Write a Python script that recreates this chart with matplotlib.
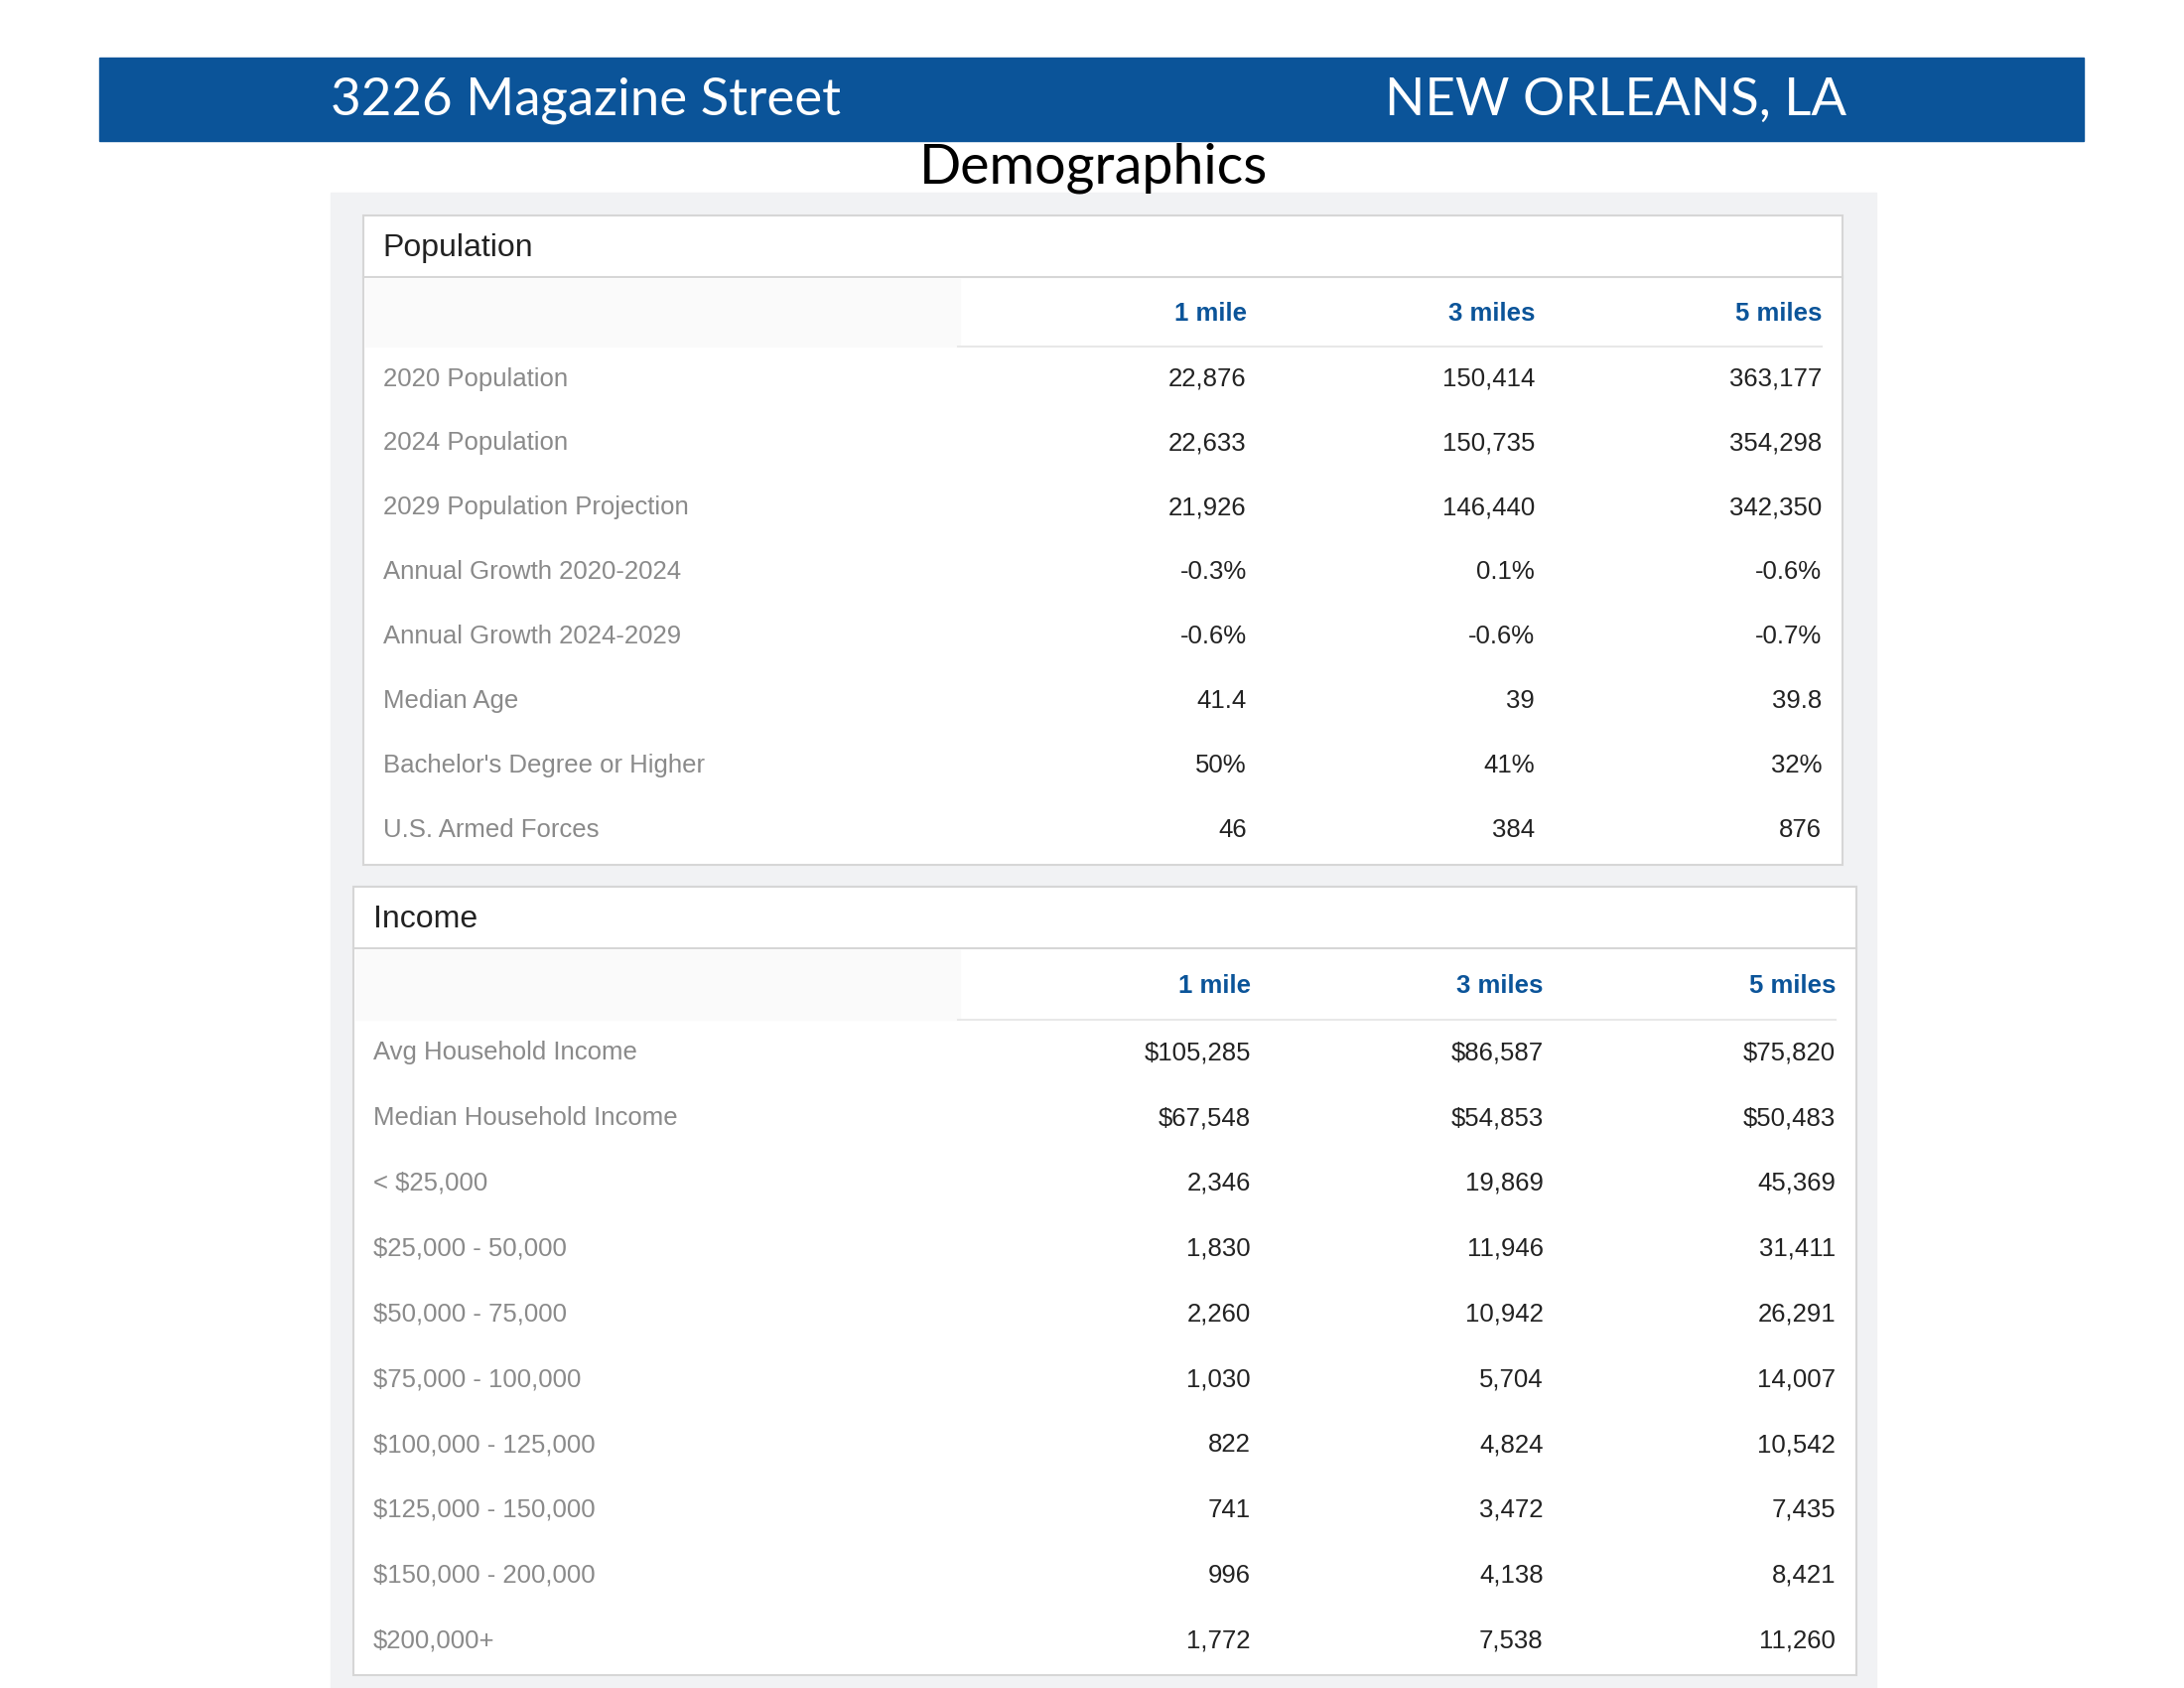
import matplotlib
import matplotlib.pyplot as plt
from matplotlib.patches import Rectangle

matplotlib.use('Agg')

columns = ['1 mile', '3 miles', '5 miles']

pop_labels = ['2020 Population', '2024 Population', '2029 Population Projection',
              'Annual Growth 2020-2024', 'Annual Growth 2024-2029', 'Median Age',
              "Bachelor's Degree or Higher", 'U.S. Armed Forces']
pop_1mi = ['22,876', '22,633', '21,926', '-0.3%', '-0.6%', '41.4', '50%', '46']
pop_3mi = ['150,414', '150,735', '146,440', '0.1%', '-0.6%', '39', '41%', '384']
pop_5mi = ['363,177', '354,298', '342,350', '-0.6%', '-0.7%', '39.8', '32%', '876']

inc_labels = ['Avg Household Income', 'Median Household Income', '< $25,000',
              '$25,000 - 50,000', '$50,000 - 75,000', '$75,000 - 100,000',
              '$100,000 - 125,000', '$125,000 - 150,000', '$150,000 - 200,000', '$200,000+']
inc_1mi = ['$105,285', '$67,548', '2,346', '1,830', '2,260', '1,030', '822', '741', '996', '1,772']
inc_3mi = ['$86,587', '$54,853', '19,869', '11,946', '10,942', '5,704', '4,824', '3,472', '4,138', '7,538']
inc_5mi = ['$75,820', '$50,483', '45,369', '31,411', '26,291', '14,007', '10,542', '7,435', '8,421', '11,260']

BLUE = '#0b5499'
TF = ['Liberation Sans', 'DejaVu Sans']

fig = plt.figure(figsize=(22, 17), dpi=100)
ax = fig.add_axes([0, 0, 1, 1])
ax.set_xlim(0, 1568)
ax.set_ylim(1212, 0)
ax.axis('off')

# banner
ax.add_patch(Rectangle((71, 41), 1425, 60, color=BLUE))
ax.text(237, 72, '3226 Magazine Street', color='white', fontsize=38, va='center', family='Lato')
ax.text(1326, 72, 'NEW ORLEANS, LA', color='white', fontsize=38, va='center', ha='right', family='Lato')
ax.text(785, 121, 'Demographics', color='black', fontsize=40, va='center', ha='center', family='Lato')

ax.add_patch(Rectangle((237, 138), 1110, 1074, color='#f1f2f4'))


def draw_table(x0, x1, y0, y1, title, labels, cols, col_x, row_y0, row_step, head_y):
    ax.add_patch(Rectangle((x0, y0), x1 - x0, y1 - y0, facecolor='white', edgecolor='#d6d6d6', lw=1.5))
    ax.plot([x0, x1], [y0 + 44, y0 + 44], color='#d6d6d6', lw=1.5)
    ax.add_patch(Rectangle((x0 + 1, y0 + 45), 688 - x0, head_y + 24 - (y0 + 45), color='#fafafa'))
    ax.text(x0 + 14, y0 + 23, title, fontsize=23, va='center', color='#222222', family=TF)
    for name, cx in zip(columns, col_x):
        ax.text(cx, head_y, name, fontsize=18.5, va='center', ha='right', color=BLUE,
                fontweight='bold', family=TF)
    ax.plot([688, col_x[-1]], [head_y + 24, head_y + 24], color='#e8e8e8', lw=1.5)
    for i, lab in enumerate(labels):
        y = row_y0 + i * row_step
        ax.text(x0 + 14, y, lab, fontsize=18.5, va='center', color='#8a8a8a', family=TF)
        for vals, cx in zip(cols, col_x):
            ax.text(cx, y, vals[i], fontsize=18.5, va='center', ha='right', color='#222222', family=TF)


draw_table(261, 1323, 155, 621, 'Population', pop_labels, [pop_1mi, pop_3mi, pop_5mi],
           [895, 1102, 1308], 272, 46.3, 225)
draw_table(254, 1333, 637, 1203, 'Income', inc_labels, [inc_1mi, inc_3mi, inc_5mi],
           [898, 1108, 1318], 756, 46.9, 708)

fig.savefig('out.png', dpi=100, facecolor='white')
